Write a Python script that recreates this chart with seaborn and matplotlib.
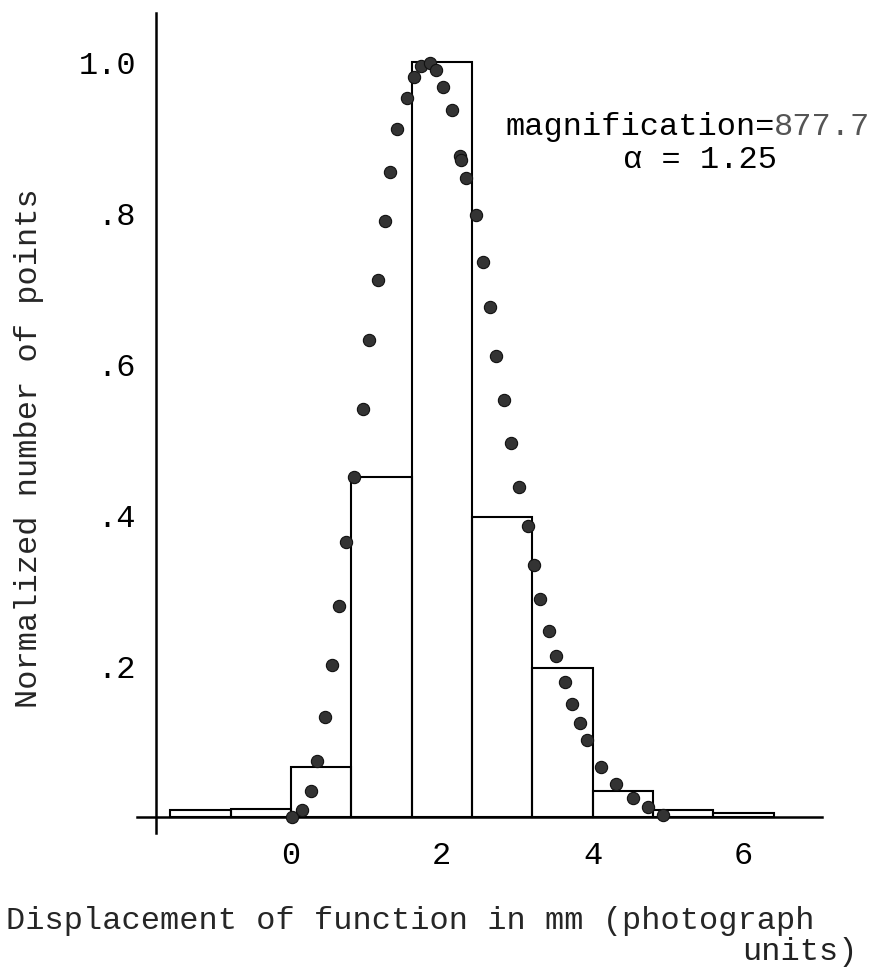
import matplotlib
matplotlib.use("Agg")
import matplotlib.pyplot as plt
import seaborn as sns
import numpy as np
import pandas as pd

# Histogram of displacements (bin width 0.8 mm), normalized to the tallest bin
bin_edges = [-1.6, -0.8, 0.0, 0.8, 1.6, 2.4, 3.2, 4.0, 4.8, 5.6, 6.4]
bin_heights = [0.010, 0.011, 0.067, 0.450, 1.000, 0.397, 0.197, 0.034, 0.009, 0.006]

# Computed line-spread function (dots)
dot_x = [0.01, 0.15, 0.26, 0.34, 0.45, 0.54, 0.64, 0.73, 0.84, 0.95,
         1.03, 1.15, 1.25, 1.31, 1.41, 1.54, 1.63, 1.72, 1.84, 1.93,
         2.02, 2.13, 2.24, 2.25, 2.32, 2.45, 2.55, 2.64, 2.72, 2.83,
         2.92, 3.03, 3.14, 3.22, 3.30, 3.42, 3.52, 3.63, 3.72, 3.83,
         3.93, 4.11, 4.31, 4.53, 4.73, 4.93]
dot_y = [0.000, 0.009, 0.034, 0.074, 0.133, 0.201, 0.279, 0.364, 0.451, 0.541,
         0.632, 0.711, 0.790, 0.855, 0.912, 0.953, 0.980, 0.995, 0.999, 0.989,
         0.967, 0.936, 0.876, 0.870, 0.846, 0.797, 0.735, 0.675, 0.611, 0.552,
         0.495, 0.437, 0.385, 0.334, 0.289, 0.247, 0.214, 0.179, 0.150, 0.125,
         0.102, 0.067, 0.044, 0.025, 0.014, 0.003]

x_ticks = [0, 1, 2, 3, 4, 5, 6]
x_tick_labels = ["0", "", "2", "", "4", "", "6"]
y_ticks = [0.1, 0.2, 0.3, 0.4, 0.5, 0.6, 0.7, 0.8, 0.9, 1.0]
y_tick_labels = ["", ".2", "", ".4", "", ".6", "", ".8", "", "1.0"]

sns.set_style("white")
plt.rcParams["font.family"] = ["Liberation Mono", "DejaVu Sans Mono"]
FS = 23
CHAR_W = 0.6 * FS  # advance width of one monospace character, in points

fig = plt.figure(figsize=(8.74, 9.69), dpi=100)
ax = fig.add_axes([137 / 874, 1 - 833 / 969, (822 - 137) / 874, (833 - 13) / 969])

centers = [(a + b) / 2 for a, b in zip(bin_edges[:-1], bin_edges[1:])]
hist_df = pd.DataFrame({"x": centers, "w": bin_heights})
sns.histplot(data=hist_df, x="x", weights="w", bins=bin_edges, fill=False,
             color="black", linewidth=1.5, ax=ax, zorder=2)

dots_df = pd.DataFrame({"x": dot_x, "y": dot_y})
sns.scatterplot(data=dots_df, x="x", y="y", color="#333333", s=78,
                edgecolor="#111111", linewidth=0.8, ax=ax, zorder=3)

ax.set_xlim(-2.04, 7.04)
ax.set_ylim(-0.021, 1.065)

for side in ("top", "right"):
    ax.spines[side].set_visible(False)
ax.spines["left"].set_position(("data", -1.79))
ax.spines["bottom"].set_position(("data", 0.0))
for side in ("left", "bottom"):
    ax.spines[side].set_linewidth(1.8)
    ax.spines[side].set_color("black")

ax.set_xticks(x_ticks)
ax.set_xticklabels(x_tick_labels, fontsize=FS)
ax.set_yticks(y_ticks)
ax.set_yticklabels(y_tick_labels, fontsize=FS)
ax.tick_params(axis="x", direction="out", length=11.5, width=1.6, pad=6, colors="black")
ax.tick_params(axis="y", direction="out", length=13.7, width=1.6, pad=0.5, colors="black")
ax.set_xlabel("")
ax.set_ylabel("")

# Parameters of the fit
label = "magnification="
ax.text(2.85, 0.914, label, fontsize=FS, ha="left", va="center", color="black")
ax.annotate("877.7", xy=(2.85, 0.914), xytext=(len(label) * CHAR_W, 0),
            textcoords="offset points", fontsize=FS, ha="left", va="center",
            color="#555555")
ax.text(4.40, 0.870, "\u03b1 = 1.25", fontsize=FS, ha="left", va="center", color="black")

# Axis titles
fig.text(29 / 874, 1 - 448 / 969, "Normalized number of points", rotation=90,
         fontsize=FS, ha="center", va="center")
fig.text(6 / 874, 1 - 921 / 969, "Displacement of function in mm (photograph",
         fontsize=FS, ha="left", va="center")
fig.text(858 / 874, 1 - 952 / 969, "units)", fontsize=FS, ha="right", va="center",
         color="#222222")

fig.savefig("out.png", dpi=100, facecolor="white")
